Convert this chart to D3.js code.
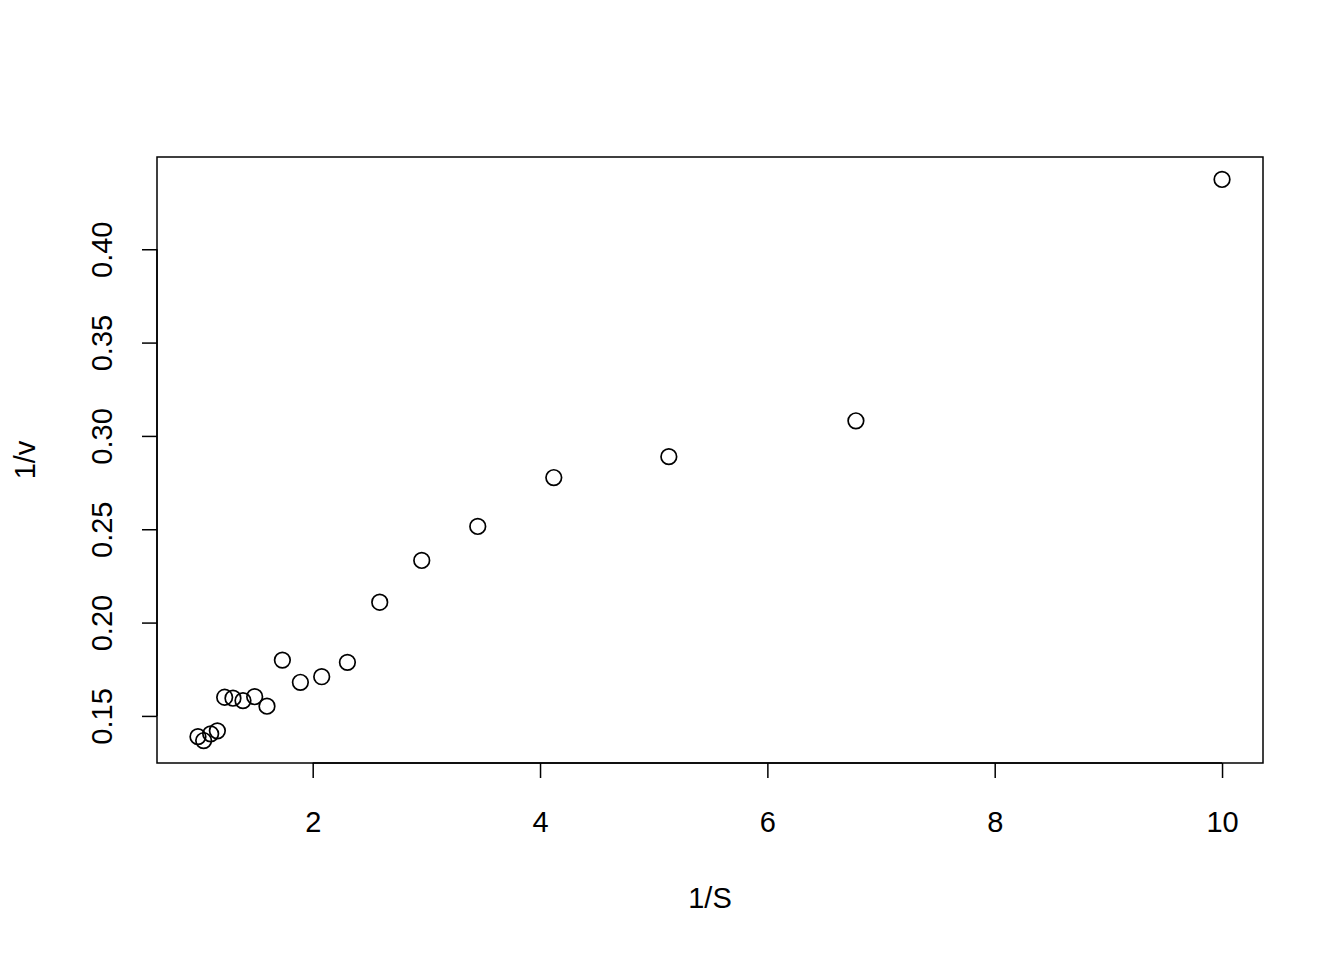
<!DOCTYPE html>
<html>
<head>
<meta charset="utf-8">
<script src="https://cdn.jsdelivr.net/npm/d3@7"></script>
<style>
  html, body { margin: 0; padding: 0; background: #fff; }
  svg { display: block; }
  text { font-family: "Liberation Sans", Arial, Helvetica, sans-serif; fill: #000; }
</style>
</head>
<body>
<svg id="chart" width="1344" height="960"></svg>
<script>
const invS = [0.9906, 1.0407, 1.1023, 1.1613, 1.2255, 1.2986, 1.3866, 1.4895, 1.5978, 1.7333,
              1.8917, 2.0792, 2.3054, 2.5897, 2.9593, 3.4521, 4.1210, 5.1331, 6.7789, 10.0];
const invV = [0.1389, 0.1368, 0.1404, 0.1420, 0.1600, 0.1595, 0.1582, 0.1603, 0.1552, 0.1799,
              0.1680, 0.1710, 0.1787, 0.2109, 0.2333, 0.2515, 0.2777, 0.2889, 0.3081, 0.4374];
const xTicks = [2, 4, 6, 8, 10];
const yTicks = [0.15, 0.20, 0.25, 0.30, 0.35, 0.40];
const xTitle = "1/S";
const yTitle = "1/v";

const pLeft = 157, pRight = 1263, pTop = 157, pBottom = 763;
const FS = 29;
const svg = d3.select("#chart");

function padded(arr) {
  const lo = d3.min(arr), hi = d3.max(arr), r = hi - lo;
  return [lo - 0.04 * r, hi + 0.04 * r];
}
const x = d3.scaleLinear().domain(padded(invS)).range([pLeft, pRight]);
const y = d3.scaleLinear().domain(padded(invV)).range([pBottom, pTop]);

// box
svg.append("rect").attr("x", pLeft).attr("y", pTop)
  .attr("width", pRight - pLeft).attr("height", pBottom - pTop)
  .attr("fill", "none").attr("stroke", "#000").attr("stroke-width", 1.5);

// x axis
const xAxis = d3.axisBottom(x).tickValues(xTicks).tickSize(15).tickPadding(0).tickFormat(d3.format("d"));
const gx = svg.append("g").attr("transform", `translate(0,${pBottom})`).call(xAxis);
gx.attr("font-size", FS).attr("font-family", '"Liberation Sans", Arial, sans-serif');
gx.select(".domain").attr("d", `M${x(xTicks[0])},0H${x(xTicks[xTicks.length-1])}`).attr("stroke-width", 1.5);
gx.selectAll(".tick line").attr("stroke-width", 1.5);
gx.selectAll(".tick text").attr("y", 69).attr("dy", 0);

// y axis
const yAxis = d3.axisLeft(y).tickValues(yTicks).tickSize(15).tickFormat(d3.format(".2f"));
const gy = svg.append("g").attr("transform", `translate(${pLeft},0)`).call(yAxis);
gy.attr("font-size", FS).attr("font-family", '"Liberation Sans", Arial, sans-serif');
gy.select(".domain").attr("d", `M0,${y(yTicks[0])}V${y(yTicks[yTicks.length-1])}`).attr("stroke-width", 1.5);
gy.selectAll(".tick line").attr("stroke-width", 1.5);
gy.selectAll(".tick text")
  .attr("x", null).attr("dy", 0)
  .attr("text-anchor", "middle")
  .attr("transform", "translate(-45,0) rotate(-90)");

// titles
svg.append("text").attr("x", (pLeft + pRight) / 2).attr("y", 908)
  .attr("text-anchor", "middle").attr("font-size", FS).text(xTitle);
svg.append("text").attr("transform", `translate(35,${(pTop + pBottom) / 2}) rotate(-90)`)
  .attr("text-anchor", "middle").attr("font-size", FS).text(yTitle);

// points
svg.append("g").selectAll("circle").data(invS.map((d, i) => [d, invV[i]])).join("circle")
  .attr("cx", d => x(d[0])).attr("cy", d => y(d[1])).attr("r", 7.8)
  .attr("fill", "none").attr("stroke", "#000").attr("stroke-width", 1.7);
</script>
</body>
</html>
